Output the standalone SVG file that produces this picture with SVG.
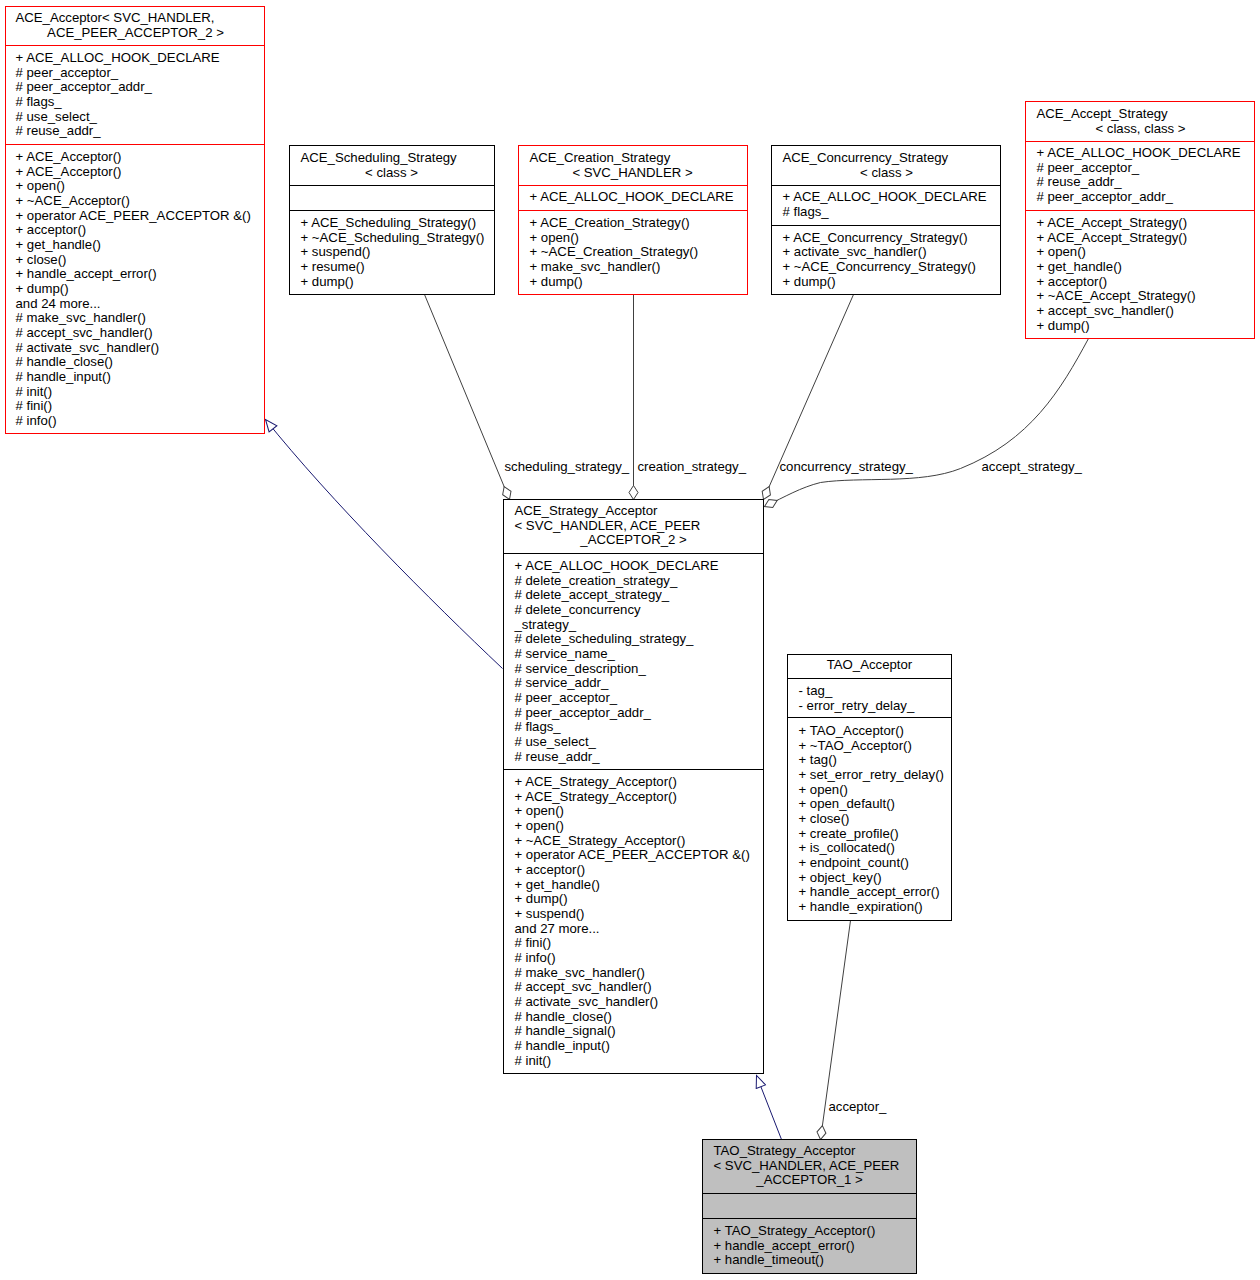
<svg xmlns="http://www.w3.org/2000/svg" width="1260" height="1280" viewBox="0 0 1260 1280">
<style>
text{font-family:"Liberation Sans",Arial,sans-serif;font-size:13.2px;fill:#000}
.m{text-anchor:middle}
.box{fill:#fff;stroke:#000;stroke-width:1}
.red{fill:#fff;stroke:#ff0000;stroke-width:1}
.cur{fill:#bfbfbf;stroke:#000;stroke-width:1}
.dl{stroke:#000;stroke-width:1}
.dr{stroke:#ff0000;stroke-width:1}
.agg{fill:none;stroke:#404040;stroke-width:1;marker-end:url(#dia)}
.inh{fill:none;stroke:#191970;stroke-width:1;marker-end:url(#tri)}
</style>
<defs>
<marker id="dia" markerUnits="userSpaceOnUse" viewBox="-1 -6 16 12" markerWidth="16" markerHeight="12" refX="14" refY="0" orient="auto">
<path d="M0,0 L7,-4.5 L14,0 L7,4.5 Z" fill="#fff" stroke="#404040" stroke-width="1"/>
</marker>
<marker id="tri" markerUnits="userSpaceOnUse" viewBox="-1 -6 14 12" markerWidth="14" markerHeight="12" refX="12" refY="0" orient="auto">
<path d="M0,-5 L12,0 L0,5 Z" fill="#fff" stroke="#191970" stroke-width="1"/>
</marker>
</defs>
<rect width="1260" height="1280" fill="#fff"/>
<g transform="translate(0.5,0.5)">
<g id="connectors">
<path class="inh" d="M502,668 C430,600 330,500 265,419"/>
<path class="inh" d="M781,1139 L756,1075"/>
<path class="agg" d="M424,294 L509,499"/>
<path class="agg" d="M633,294 L633,499"/>
<path class="agg" d="M853,294 L763,499"/>
<path class="agg" d="M1088,338 C1060,390 1030,440 960,468 C920,484 860,476 820,482 C800,487 785,496 764,506"/>
<path class="agg" d="M850,920 L820,1139"/>
<text x="504" y="470">scheduling_strategy_</text>
<text x="637" y="470">creation_strategy_</text>
<text x="779" y="470">concurrency_strategy_</text>
<text x="981" y="470">accept_strategy_</text>
<text x="828" y="1110">acceptor_</text>
</g>

<g id="ACE_Acceptor">
<rect class="red" x="5" y="6" width="259" height="427"/>
<line class="dr" x1="5" y1="45" x2="264" y2="45"/>
<line class="dr" x1="5" y1="144" x2="264" y2="144"/>
<text x="15" y="21.5">ACE_Acceptor&lt; SVC_HANDLER,</text>
<text class="m" x="135" y="36">ACE_PEER_ACCEPTOR_2 &gt;</text>
<text x="15" y="61.5">+ ACE_ALLOC_HOOK_DECLARE</text>
<text x="15" y="76">#  peer_acceptor_</text>
<text x="15" y="90.5">#  peer_acceptor_addr_</text>
<text x="15" y="105">#  flags_</text>
<text x="15" y="120">#  use_select_</text>
<text x="15" y="134.5">#  reuse_addr_</text>
<text x="15" y="160.5">+ ACE_Acceptor()</text>
<text x="15" y="175.2">+ ACE_Acceptor()</text>
<text x="15" y="189.8">+ open()</text>
<text x="15" y="204.5">+ ~ACE_Acceptor()</text>
<text x="15" y="219.2">+ operator ACE_PEER_ACCEPTOR &amp;()</text>
<text x="15" y="233.8">+ acceptor()</text>
<text x="15" y="248.5">+ get_handle()</text>
<text x="15" y="263.2">+ close()</text>
<text x="15" y="277.9">+ handle_accept_error()</text>
<text x="15" y="292.5">+ dump()</text>
<text x="15" y="307.2">and 24 more...</text>
<text x="15" y="321.9">#  make_svc_handler()</text>
<text x="15" y="336.5">#  accept_svc_handler()</text>
<text x="15" y="351.2">#  activate_svc_handler()</text>
<text x="15" y="365.9">#  handle_close()</text>
<text x="15" y="380.5">#  handle_input()</text>
<text x="15" y="395.2">#  init()</text>
<text x="15" y="409.9">#  fini()</text>
<text x="15" y="424.5">#  info()</text>
</g>

<g id="ACE_Scheduling_Strategy">
<rect class="box" x="289" y="145" width="205" height="149"/>
<line class="dl" x1="289" y1="185" x2="494" y2="185"/>
<line class="dl" x1="289" y1="210" x2="494" y2="210"/>
<text x="300" y="161.5">ACE_Scheduling_Strategy</text>
<text class="m" x="391" y="176">&lt; class &gt;</text>
<text x="300" y="226.5">+ ACE_Scheduling_Strategy()</text>
<text x="300" y="241">+ ~ACE_Scheduling_Strategy()</text>
<text x="300" y="255.8">+ suspend()</text>
<text x="300" y="270.5">+ resume()</text>
<text x="300" y="285">+ dump()</text>
</g>

<g id="ACE_Creation_Strategy">
<rect class="red" x="518" y="145" width="229" height="149"/>
<line class="dr" x1="518" y1="185" x2="747" y2="185"/>
<line class="dr" x1="518" y1="210" x2="747" y2="210"/>
<text x="529" y="161.5">ACE_Creation_Strategy</text>
<text class="m" x="632" y="176">&lt; SVC_HANDLER &gt;</text>
<text x="529" y="200.5">+ ACE_ALLOC_HOOK_DECLARE</text>
<text x="529" y="226.5">+ ACE_Creation_Strategy()</text>
<text x="529" y="241">+ open()</text>
<text x="529" y="255.8">+ ~ACE_Creation_Strategy()</text>
<text x="529" y="270.5">+ make_svc_handler()</text>
<text x="529" y="285">+ dump()</text>
</g>

<g id="ACE_Concurrency_Strategy">
<rect class="box" x="771" y="145" width="229" height="149"/>
<line class="dl" x1="771" y1="185" x2="1000" y2="185"/>
<line class="dl" x1="771" y1="225" x2="1000" y2="225"/>
<text x="782" y="161.5">ACE_Concurrency_Strategy</text>
<text class="m" x="886" y="176">&lt; class &gt;</text>
<text x="782" y="200.5">+ ACE_ALLOC_HOOK_DECLARE</text>
<text x="782" y="215">#  flags_</text>
<text x="782" y="241">+ ACE_Concurrency_Strategy()</text>
<text x="782" y="255.8">+ activate_svc_handler()</text>
<text x="782" y="270.5">+ ~ACE_Concurrency_Strategy()</text>
<text x="782" y="285">+ dump()</text>
</g>

<g id="ACE_Accept_Strategy">
<rect class="red" x="1025" y="101" width="229" height="237"/>
<line class="dr" x1="1025" y1="141" x2="1254" y2="141"/>
<line class="dr" x1="1025" y1="210" x2="1254" y2="210"/>
<text x="1036" y="117.5">ACE_Accept_Strategy</text>
<text class="m" x="1140" y="132">&lt; class, class &gt;</text>
<text x="1036" y="156.5">+ ACE_ALLOC_HOOK_DECLARE</text>
<text x="1036" y="171.2">#  peer_acceptor_</text>
<text x="1036" y="185.9">#  reuse_addr_</text>
<text x="1036" y="200.5">#  peer_acceptor_addr_</text>
<text x="1036" y="226.5">+ ACE_Accept_Strategy()</text>
<text x="1036" y="241.2">+ ACE_Accept_Strategy()</text>
<text x="1036" y="255.8">+ open()</text>
<text x="1036" y="270.5">+ get_handle()</text>
<text x="1036" y="285.2">+ acceptor()</text>
<text x="1036" y="299.9">+ ~ACE_Accept_Strategy()</text>
<text x="1036" y="314.5">+ accept_svc_handler()</text>
<text x="1036" y="329.2">+ dump()</text>
</g>

<g id="ACE_Strategy_Acceptor">
<rect class="box" x="503" y="499" width="260" height="574"/>
<line class="dl" x1="503" y1="553" x2="763" y2="553"/>
<line class="dl" x1="503" y1="769" x2="763" y2="769"/>
<text x="514" y="514.5">ACE_Strategy_Acceptor</text>
<text x="514" y="529.2">&lt; SVC_HANDLER, ACE_PEER</text>
<text class="m" x="633" y="543.9">_ACCEPTOR_2 &gt;</text>
<text x="514" y="569.5">+ ACE_ALLOC_HOOK_DECLARE</text>
<text x="514" y="584.2">#  delete_creation_strategy_</text>
<text x="514" y="598.8">#  delete_accept_strategy_</text>
<text x="514" y="613.5">#  delete_concurrency</text>
<text x="514" y="628.2">_strategy_</text>
<text x="514" y="642.8">#  delete_scheduling_strategy_</text>
<text x="514" y="657.5">#  service_name_</text>
<text x="514" y="672.2">#  service_description_</text>
<text x="514" y="686.9">#  service_addr_</text>
<text x="514" y="701.5">#  peer_acceptor_</text>
<text x="514" y="716.2">#  peer_acceptor_addr_</text>
<text x="514" y="730.9">#  flags_</text>
<text x="514" y="745.5">#  use_select_</text>
<text x="514" y="760.2">#  reuse_addr_</text>
<text x="514" y="785.5">+ ACE_Strategy_Acceptor()</text>
<text x="514" y="800.2">+ ACE_Strategy_Acceptor()</text>
<text x="514" y="814.8">+ open()</text>
<text x="514" y="829.5">+ open()</text>
<text x="514" y="844.2">+ ~ACE_Strategy_Acceptor()</text>
<text x="514" y="858.8">+ operator ACE_PEER_ACCEPTOR &amp;()</text>
<text x="514" y="873.5">+ acceptor()</text>
<text x="514" y="888.2">+ get_handle()</text>
<text x="514" y="902.9">+ dump()</text>
<text x="514" y="917.5">+ suspend()</text>
<text x="514" y="932.2">and 27 more...</text>
<text x="514" y="946.9">#  fini()</text>
<text x="514" y="961.5">#  info()</text>
<text x="514" y="976.2">#  make_svc_handler()</text>
<text x="514" y="990.9">#  accept_svc_handler()</text>
<text x="514" y="1005.5">#  activate_svc_handler()</text>
<text x="514" y="1020.2">#  handle_close()</text>
<text x="514" y="1034.9">#  handle_signal()</text>
<text x="514" y="1049.5">#  handle_input()</text>
<text x="514" y="1064.2">#  init()</text>
</g>

<g id="TAO_Acceptor">
<rect class="box" x="787" y="654" width="164" height="266"/>
<line class="dl" x1="787" y1="678" x2="951" y2="678"/>
<line class="dl" x1="787" y1="717" x2="951" y2="717"/>
<text class="m" x="869" y="668.5">TAO_Acceptor</text>
<text x="798" y="694.5">- tag_</text>
<text x="798" y="709.2">- error_retry_delay_</text>
<text x="798" y="734.5">+ TAO_Acceptor()</text>
<text x="798" y="749.2">+ ~TAO_Acceptor()</text>
<text x="798" y="763.8">+ tag()</text>
<text x="798" y="778.5">+ set_error_retry_delay()</text>
<text x="798" y="793.2">+ open()</text>
<text x="798" y="807.8">+ open_default()</text>
<text x="798" y="822.5">+ close()</text>
<text x="798" y="837.2">+ create_profile()</text>
<text x="798" y="851.9">+ is_collocated()</text>
<text x="798" y="866.5">+ endpoint_count()</text>
<text x="798" y="881.2">+ object_key()</text>
<text x="798" y="895.9">+ handle_accept_error()</text>
<text x="798" y="910.5">+ handle_expiration()</text>
</g>

<g id="TAO_Strategy_Acceptor">
<rect class="cur" x="702" y="1139" width="214" height="134"/>
<line class="dl" x1="702" y1="1193" x2="916" y2="1193"/>
<line class="dl" x1="702" y1="1218" x2="916" y2="1218"/>
<text x="713" y="1154.5">TAO_Strategy_Acceptor</text>
<text x="713" y="1169.2">&lt; SVC_HANDLER, ACE_PEER</text>
<text class="m" x="809" y="1183.9">_ACCEPTOR_1 &gt;</text>
<text x="713" y="1234.5">+ TAO_Strategy_Acceptor()</text>
<text x="713" y="1249.2">+ handle_accept_error()</text>
<text x="713" y="1263.9">+ handle_timeout()</text>
</g>
</g>
</svg>
